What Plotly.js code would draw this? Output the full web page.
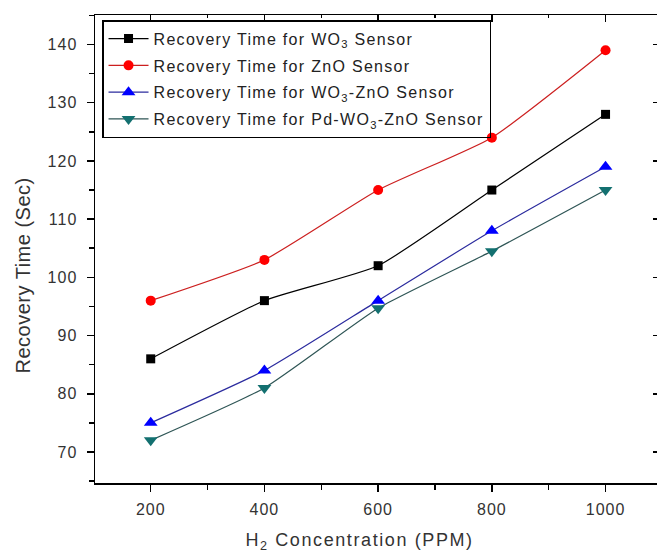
<!DOCTYPE html>
<html>
<head>
<meta charset="utf-8">
<script src="https://cdn.plot.ly/plotly-3.0.1.min.js"></script>
<style>
  html, body { margin: 0; padding: 0; background: #fff; }
  #chart { width: 657px; height: 554px; }
  .xtick text, .ytick text { letter-spacing: 1px; }
  .legendtext { letter-spacing: 1.3px; }
  .annotation[data-index="0"] text { letter-spacing: 1.6px; }
  .annotation[data-index="1"] text { letter-spacing: 0.5px; }
</style>
</head>
<body>
<div id="chart"></div>
<script>
// H2 concentration (PPM)
const concentration = [200, 400, 600, 800, 1000];
// Recovery time (Sec)
const wo3 = [86, 96, 102, 115, 128];
const zno = [96, 103, 115, 124, 139];
const wo3Zno = [75, 84, 96, 108, 119];
const pdWo3Zno = [72, 81, 94.7, 104.5, 115];
const seriesNames = [
  'Recovery Time for WO<sub>3</sub> Sensor',
  'Recovery Time for ZnO Sensor',
  'Recovery Time for WO<sub>3</sub>-ZnO Sensor',
  'Recovery Time for Pd-WO<sub>3</sub>-ZnO Sensor'
];
const xTickVals = [200, 400, 600, 800, 1000];
const xTickText = ['200', '400', '600', '800', '1000'];
const yTickVals = [70, 80, 90, 100, 110, 120, 130, 140];

const FONT = 'Arial, "Liberation Sans", sans-serif';

function series(y, name, lineColor, markerColor, symbol, size) {
  return {
    x: concentration, y: y, name: name,
    type: 'scatter', mode: 'lines+markers',
    legendgroup: name,
    line: { color: lineColor, width: 1.2, shape: 'spline', smoothing: 0.5 },
    marker: { color: markerColor, symbol: symbol, size: size, line: { width: 0 } }
  };
}

const traces = [
  series(wo3, seriesNames[0], '#000000', '#000000', 'square', 9),
  series(zno, seriesNames[1], '#cc1f1f', '#ff0000', 'circle', 10),
  series(wo3Zno, seriesNames[2], '#2b2b9e', '#0000ff', 'triangle-up', 12),
  series(pdWo3Zno, seriesNames[3], '#2e5555', '#137070', 'triangle-down', 12),
  // carrier (draws nothing) so the mirrored top/right tick axes are rendered
  { x: concentration, y: wo3, xaxis: 'x2', yaxis: 'y2', type: 'scatter', mode: 'none',
    showlegend: false, hoverinfo: 'skip' }
];

const axisCommon = {
  showgrid: false, zeroline: false, showline: true,
  linecolor: '#000', linewidth: 1.5, tickcolor: '#000', tickwidth: 1.5
};

const layout = {
  width: 657, height: 554,
  margin: { l: 95, r: 0, t: 15, b: 71 },
  paper_bgcolor: '#fff', plot_bgcolor: '#fff',
  font: { family: FONT, color: '#333', size: 16 },
  showlegend: true,
  legend: {
    x: 0.0125, y: 0.989, xanchor: 'left', yanchor: 'top',
    bgcolor: 'rgba(255,255,255,0)', bordercolor: '#000', borderwidth: 1.5,
    font: { family: FONT, size: 16, color: '#222' },
    tracegroupgap: 3, itemwidth: 40
  },
  xaxis: Object.assign({}, axisCommon, {
    range: [102, 1090.5],
    tickmode: 'array', tickvals: xTickVals, ticktext: xTickText,
    ticks: 'outside', ticklen: 7, ticklabelstandoff: 4,
    minor: { dtick: 100, tick0: 100, ticks: 'outside', ticklen: 5, tickcolor: '#000', tickwidth: 1.5 },
    tickfont: { family: FONT, size: 16, color: '#333' }
  }),
  xaxis2: Object.assign({}, axisCommon, {
    overlaying: 'x', side: 'top', anchor: 'y2', matches: 'x',
    tickvals: xTickVals, showticklabels: false,
    ticks: 'inside', ticklen: 7,
    minor: { dtick: 100, tick0: 100, ticks: 'inside', ticklen: 3, tickcolor: '#000', tickwidth: 1.5 }
  }),
  yaxis: Object.assign({}, axisCommon, {
    range: [64.67, 145.07],
    tickmode: 'array', tickvals: yTickVals,
    ticks: 'outside', ticklen: 7, ticklabelstandoff: 6,
    minor: { dtick: 5, tick0: 65, ticks: 'outside', ticklen: 5, tickcolor: '#000', tickwidth: 1.5 },
    tickfont: { family: FONT, size: 16, color: '#333' }
  }),
  yaxis2: {
    overlaying: 'y', side: 'right', anchor: 'x2', matches: 'y',
    showgrid: false, zeroline: false, showline: false,
    tickvals: yTickVals, showticklabels: false,
    ticks: 'inside', ticklen: 4, tickcolor: '#000', tickwidth: 1.5
  },
  annotations: [
    { text: 'H<sub>2</sub> Concentration (PPM)', xref: 'paper', yref: 'paper',
      x: 0.4715, y: -0.125, xanchor: 'center', yanchor: 'middle', showarrow: false,
      font: { family: FONT, size: 18, color: '#333' } },
    { text: 'Recovery Time (Sec)', xref: 'paper', yref: 'paper', textangle: -90,
      x: -0.128, y: 0.443, xanchor: 'center', yanchor: 'middle', showarrow: false,
      font: { family: FONT, size: 20, color: '#333' } }
  ]
};

Plotly.newPlot('chart', traces, layout, { displayModeBar: false, staticPlot: true });
</script>
</body>
</html>
